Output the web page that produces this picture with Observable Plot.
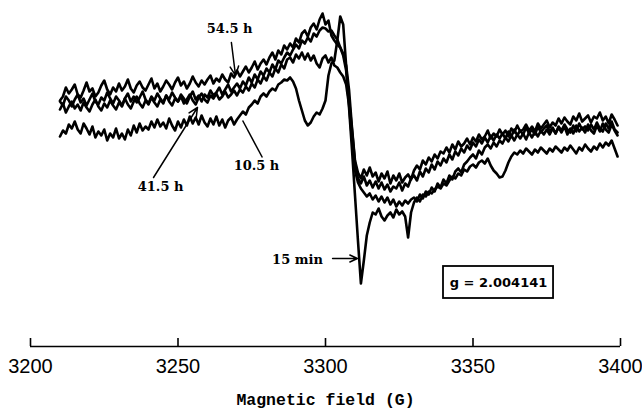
<!DOCTYPE html>
<html><head><meta charset="utf-8">
<script src="https://cdn.jsdelivr.net/npm/d3@7"></script>
<script src="https://cdn.jsdelivr.net/npm/@observablehq/plot@0.6"></script>
<style>body{margin:0;background:#fff}</style>
</head><body><div id="chart"></div>
<script>
// Field sampling of the recorded spectra (G)
const fieldStart = 3210;
const fieldStep = 1;

// EPR derivative signal (arbitrary units), one value per gauss 3210..3399
const s54h = [
100,104,113,107,111,116,106,103,110,118,
109,112,104,108,115,120,111,106,113,109,
117,110,114,121,112,108,115,119,113,110,
116,122,112,117,109,114,120,116,111,118,
123,115,119,112,117,124,118,114,120,116,
121,125,117,122,119,126,121,118,127,123,
130,124,129,134,128,133,139,131,137,141,
136,143,148,141,150,146,155,151,157,153,
162,158,167,170,164,173,177,171,181,187,
176,180,165,160,156,153,147,135,110,72,40,28,
22,31,25,33,24,28,19,27,
22,29,17,25,20,27,18,23,26,21,
30,35,31,40,36,43,39,46,42,49,
47,53,48,56,51,59,54,57,62,56,
63,59,66,61,64,70,62,67,64,71,
66,70,64,72,68,75,69,71,76,70,
74,69,77,72,76,80,73,78,75,82,
77,83,79,76,84,80,87,79,82,85,
78,84,82,88,80,84,77,86,81,75];
const s41h = [
99,95,104,100,94,101,106,98,102,95,
101,107,99,96,103,100,108,102,97,104,
100,95,102,107,99,104,98,103,109,101,
97,104,100,107,102,98,105,101,108,103,
99,106,102,97,104,109,101,105,99,106,
103,110,105,108,113,106,111,116,109,113,
117,112,119,115,123,118,126,121,129,125,
132,128,136,131,140,137,143,148,145,151,
156,152,160,157,163,159,167,164,170,173,
172,169,170,165,161,153,145,130,100,70,38,22,
17,24,15,20,13,19,12,18,
11,16,9,14,12,18,10,17,14,22,
25,20,29,24,32,28,36,31,39,35,
42,38,46,41,49,45,52,48,55,51,
58,54,61,57,63,58,65,60,66,62,
67,62,69,64,71,65,70,66,73,67,
71,66,74,68,72,75,69,73,67,74,
70,76,71,68,75,69,77,71,74,70,
76,71,78,72,69,77,72,79,71,68];
const s10h = [
91,97,88,94,99,92,96,90,98,93,
89,96,101,94,90,97,93,100,95,91,
98,94,102,96,92,99,104,97,93,100,
96,103,98,94,101,97,105,99,95,102,
99,104,97,101,106,100,96,103,107,101,
98,105,102,107,101,104,109,103,106,110,
105,111,108,114,110,117,113,121,117,124,
120,128,124,132,128,136,132,141,143,138,
146,142,148,141,147,140,145,137,133,142,
145,138,143,135,133,128,124,116,95,60,30,18,
12,8,4,7,1,5,-1,4,
-2,3,-4,1,-6,-1,-5,0,-3,1,
3,-1,6,2,9,6,13,9,17,13,
21,17,25,21,29,32,28,36,39,43,
46,42,50,46,53,56,52,58,54,60,
57,63,59,65,60,66,62,67,61,68,
63,69,64,70,66,71,66,72,67,73,
68,74,66,72,67,75,69,73,68,76,
70,67,75,69,77,71,68,76,70,65];
const s15min = [
64,70,67,76,72,79,71,67,77,72,
66,74,63,69,65,71,60,67,63,72,
62,67,61,71,65,75,68,77,70,74,
71,79,73,81,74,78,72,82,75,70,
79,73,81,75,84,77,83,76,85,78,
74,82,76,84,75,81,73,80,83,76,
81,85,89,86,93,96,100,97,104,107,
104,109,112,110,116,118,121,120,123,119,
112,100,90,80,75,78,84,88,86,92,
100,125,137,140,160,184,176,135,92,50,5,-40,
-83,-60,-35,-22,-12,-14,-8,-16,
-20,-15,-12,-17,-9,-14,-11,-16,-37,-12,
-2,3,-1,6,4,9,7,11,14,12,
17,15,20,24,22,27,25,31,29,34,
36,33,38,40,37,42,35,30,27,23,
24,30,38,44,48,46,50,47,52,49,
46,51,48,53,50,47,52,49,54,51,
48,53,50,55,51,47,53,50,56,52,
49,54,51,57,53,58,55,60,52,44];

const seriesNames = ["54.5 h", "41.5 h", "10.5 h", "15 min"];
const seriesValues = [s54h, s41h, s10h, s15min];

const xTicks = [3200, 3250, 3300, 3350, 3400];
const xTickLabels = ["3200", "3250", "3300", "3350", "3400"];
const xTitle = "Magnetic field (G)";

// annotation placement (field, signal)
const labelTexts = ["54.5 h", "41.5 h", "10.5 h", "15 min"];
const labelFields = [3267.5, 3244.1, 3276.6, 3290.5];
const labelSignals = [172, 14, 35, -59];
const arrowFrom = [[3268.1, 158], [3241.7, 23], [3302.4, -58]];
const arrowTo = [[3269.5, 125], [3256.6, 93], [3310.8, -58]];
const leaderFrom = [[3278.6, 43]];
const leaderTo = [[3271.9, 80]];
const gText = "g = 2.004141";
const gBoxField = [3340, 3377.3];
const gBoxSignal = [-66, -98];

const data = seriesNames.flatMap((name, k) =>
  seriesValues[k].map((v, i) => ({series: name, field: fieldStart + i * fieldStep, signal: v})));

const labels = labelTexts.map((t, i) => ({text: t, field: labelFields[i], signal: labelSignals[i]}));
const arrows = arrowFrom.map((a, i) => ({x1: a[0], y1: a[1], x2: arrowTo[i][0], y2: arrowTo[i][1]}));
const leaders = leaderFrom.map((a, i) => ({x1: a[0], y1: a[1], x2: leaderTo[i][0], y2: leaderTo[i][1]}));
const gBox = [{x1: gBoxField[0], x2: gBoxField[1], y1: gBoxSignal[0], y2: gBoxSignal[1], text: gText}];

const yDomain = [-146, 200];

const chart = Plot.plot({
  width: 642,
  height: 415,
  marginLeft: 30,
  marginRight: 22,
  marginTop: 0,
  marginBottom: 69,
  style: {background: "#fff", color: "#000", overflow: "visible"},
  x: {domain: [3200, 3400], label: null},
  y: {domain: yDomain, axis: null},
  marks: [
    Plot.ruleY([yDomain[0]], {x1: xTicks[0], x2: xTicks[xTicks.length - 1], stroke: "#000", strokeWidth: 1.6}),
    Plot.axisX(xTicks, {tickSize: -8, strokeWidth: 1.6, tickFormat: () => "", label: null}),
    Plot.axisX(xTicks, {tickSize: 0, tickPadding: 12, tickFormat: (d, i) => xTickLabels[i], fontSize: 20, fontFamily: "Liberation Sans", label: null}),
    Plot.text([xTitle], {frameAnchor: "bottom", dy: 58, fontSize: 16.5, fontWeight: "bold", fontFamily: "Liberation Mono", fill: "#000"}),
    Plot.line(data, {x: "field", y: "signal", z: "series", stroke: "#000", strokeWidth: 2.6, strokeLinejoin: "round"}),
    Plot.arrow(arrows, {x1: "x1", y1: "y1", x2: "x2", y2: "y2", stroke: "#000", strokeWidth: 1.5, headLength: 10, headAngle: 50}),
    Plot.link(leaders, {x1: "x1", y1: "y1", x2: "x2", y2: "y2", stroke: "#000", strokeWidth: 1.5}),
    Plot.text(labels, {x: "field", y: "signal", text: "text", fontSize: 13, fontWeight: "bold", fontFamily: "DejaVu Serif", fill: "#000"}),
    Plot.rect(gBox, {x1: "x1", x2: "x2", y1: "y1", y2: "y2", fill: "#fff", stroke: "#000", strokeWidth: 1.8}),
    Plot.text(gBox, {x: d => (d.x1 + d.x2) / 2, y: d => (d.y1 + d.y2) / 2, text: "text", fontSize: 13, fontWeight: "bold", fontFamily: "DejaVu Sans", fill: "#000"})
  ]
});
document.getElementById("chart").appendChild(chart);
</script>
</body></html>
